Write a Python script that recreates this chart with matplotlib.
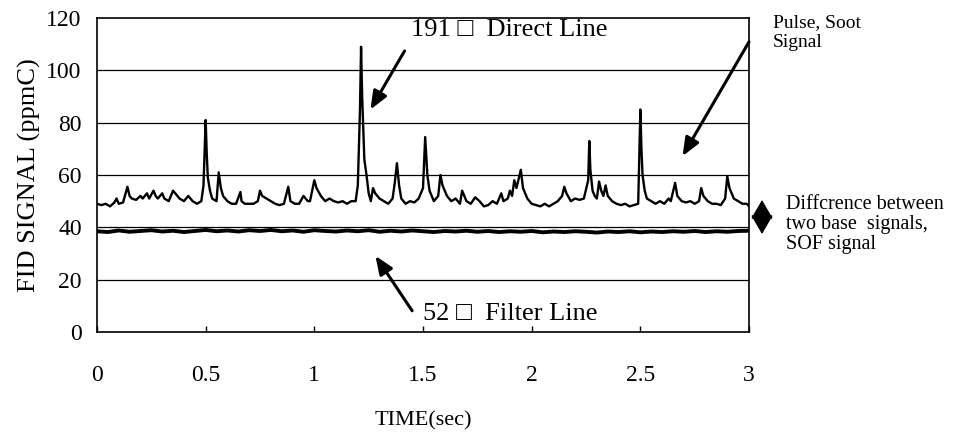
import matplotlib
matplotlib.use('Agg')
import matplotlib.pyplot as plt

plt.rcParams['font.family'] = ['Liberation Serif', 'DejaVu Serif']

# direct line (191 C)
direct_t = [0.00, 0.02, 0.04, 0.06, 0.08, 0.09, 0.10, 0.12, 0.14, 0.15, 0.16, 0.18,
            0.20, 0.21, 0.23, 0.24, 0.26, 0.27, 0.28, 0.30, 0.31, 0.33, 0.35, 0.37,
            0.38, 0.40, 0.42, 0.44, 0.46, 0.48, 0.49, 0.50, 0.505, 0.51, 0.52, 0.53,
            0.55, 0.56, 0.57, 0.58, 0.60, 0.62, 0.64, 0.66, 0.665, 0.68, 0.70, 0.72,
            0.74, 0.75, 0.76, 0.78, 0.80, 0.82, 0.84, 0.86, 0.88, 0.89, 0.91, 0.93,
            0.95, 0.97, 0.98, 1.00, 1.01, 1.03, 1.05, 1.07, 1.09, 1.11, 1.13, 1.15,
            1.17, 1.19, 1.20, 1.21, 1.215, 1.22, 1.23, 1.24, 1.25, 1.26, 1.27, 1.28,
            1.30, 1.32, 1.34, 1.36, 1.37, 1.38, 1.39, 1.40, 1.42, 1.44, 1.46, 1.48,
            1.50, 1.51, 1.52, 1.53, 1.55, 1.57, 1.58, 1.59, 1.61, 1.63, 1.65, 1.67,
            1.68, 1.70, 1.72, 1.74, 1.76, 1.78, 1.80, 1.82, 1.84, 1.86, 1.87, 1.89,
            1.90, 1.91, 1.92, 1.93, 1.95, 1.96, 1.98, 2.00, 2.02, 2.04, 2.06, 2.08,
            2.10, 2.12, 2.14, 2.15, 2.16, 2.18, 2.20, 2.22, 2.24, 2.26, 2.265, 2.27,
            2.28, 2.29, 2.30, 2.31, 2.32, 2.33, 2.34, 2.35, 2.37, 2.39, 2.41, 2.43,
            2.45, 2.47, 2.49, 2.50, 2.505, 2.51, 2.52, 2.53, 2.55, 2.57, 2.59, 2.61,
            2.63, 2.64, 2.66, 2.67, 2.69, 2.71, 2.73, 2.75, 2.77, 2.78, 2.79, 2.81,
            2.83, 2.85, 2.87, 2.89, 2.90, 2.91, 2.93, 2.95, 2.97, 2.99, 3.00]
direct_v = [49, 48.5, 49, 48, 49.5, 51, 49, 49.5, 55.5, 52, 51, 50.5,
            52, 51, 53, 51, 54, 52, 51, 53, 51, 50, 54, 52,
            51, 50, 52, 50, 49, 50, 56, 81, 68, 59, 54, 51,
            50, 61, 55, 52, 50, 49, 49, 53.5, 50, 49, 49, 49,
            50, 54, 52, 51, 50, 49, 48.5, 49, 55.5, 50, 49, 49,
            52, 50, 50, 58, 55, 52, 50, 51, 50, 49.5, 50, 49,
            50, 50, 56, 85, 109, 90, 66, 60, 53, 50, 55, 53,
            51, 50, 49, 51, 57, 64.5, 56, 51, 49, 50, 49.5, 51,
            55, 74.5, 60, 54, 50, 52, 60, 56, 52, 50, 51, 49,
            54, 50, 49, 51.5, 50, 48, 48.5, 50, 49, 53, 50, 51,
            54, 52, 58, 55, 62, 55, 51, 49, 48.5, 48, 49, 48,
            49, 50, 52, 55.5, 53, 50, 51, 50.5, 51, 58, 73, 62,
            54, 52, 51, 57.5, 54, 52, 56, 52, 50, 49, 48.5, 49,
            48, 48.5, 49, 85, 70, 60, 54, 51, 50, 49, 50, 49,
            51, 50, 57, 52, 50, 49.5, 50, 49, 50, 55, 52, 50,
            49, 49, 48.5, 51, 59.5, 55, 51, 50, 49, 49, 48]

# filter line (52 C)
filter_t = [0.00, 0.05, 0.10, 0.15, 0.20, 0.25, 0.30, 0.35, 0.40, 0.45, 0.50, 0.55,
            0.60, 0.65, 0.70, 0.75, 0.80, 0.85, 0.90, 0.95, 1.00, 1.05, 1.10, 1.15,
            1.20, 1.25, 1.30, 1.35, 1.40, 1.45, 1.50, 1.55, 1.60, 1.65, 1.70, 1.75,
            1.80, 1.85, 1.90, 1.95, 2.00, 2.05, 2.10, 2.15, 2.20, 2.25, 2.30, 2.35,
            2.40, 2.45, 2.50, 2.55, 2.60, 2.65, 2.70, 2.75, 2.80, 2.85, 2.90, 2.95, 3.00]
filter_v = [38.5, 38.2, 38.8, 38.3, 38.6, 38.9, 38.4, 38.7, 38.2, 38.6, 39.0, 38.5,
            38.8, 38.4, 38.9, 38.6, 39.0, 38.5, 38.8, 38.3, 38.9, 38.6, 38.4, 38.8,
            38.5, 38.9, 38.3, 38.7, 38.4, 38.8, 38.5, 38.2, 38.6, 38.4, 38.7, 38.3,
            38.6, 38.2, 38.5, 38.3, 38.6, 38.1, 38.4, 38.2, 38.5, 38.3, 38.0, 38.4,
            38.2, 38.5, 38.1, 38.4, 38.2, 38.5, 38.3, 38.6, 38.2, 38.5, 38.3, 38.6, 38.7]

x_ticks = [0, 0.5, 1, 1.5, 2, 2.5, 3]
x_labels = ['0', '0.5', '1', '1.5', '2', '2.5', '3']
y_ticks = [0, 20, 40, 60, 80, 100, 120]

fig = plt.figure(figsize=(9.66, 4.37), dpi=100)
ax = fig.add_axes([0.1004, 0.2403, 0.675, 0.7185])

for y in y_ticks[1:-1]:
    ax.axhline(y, color='black', lw=0.9, zorder=1)

ax.plot(direct_t, direct_v, color='black', lw=1.7, zorder=3)
ax.plot(filter_t, filter_v, color='black', lw=2.8, zorder=3)

ax.set_xlim(0, 3)
ax.set_ylim(0, 120)
ax.set_xticks(x_ticks)
ax.set_xticklabels(x_labels)
ax.set_yticks(y_ticks)
ax.tick_params(axis='x', direction='in', length=4, width=1, pad=24, labelsize=17)
ax.tick_params(axis='y', length=0, pad=11, labelsize=17)
for s in ax.spines.values():
    s.set_linewidth(1.2)

ax.set_xlabel('TIME(sec)', fontsize=16, labelpad=18)
ax.set_ylabel('FID SIGNAL (ppmC)', fontsize=19, labelpad=4)

arrow = dict(arrowstyle='-|>,head_length=1.1,head_width=0.45', color='black', lw=2.2,
             shrinkA=0, shrinkB=0)

ax.annotate('', xy=(1.258, 85), xytext=(1.415, 107.4), arrowprops=arrow)
ax.text(1.445, 115.4, '191 \u25a1  Direct Line', fontsize=19, ha='left', va='center')

ax.annotate('', xy=(2.694, 67.2), xytext=(3.0, 110.9), arrowprops=arrow,
            annotation_clip=False)

ax.annotate('', xy=(1.281, 29.1), xytext=(1.45, 8.1), arrowprops=arrow)
ax.text(1.5, 6.9, '52 \u25a1  Filter Line', fontsize=19, ha='left', va='center')

fig.text(0.800, 0.968, 'Pulse, Soot\nSignal', fontsize=14, ha='left', va='top',
         linespacing=1.25)

ax.annotate('', xy=(762, 237), xytext=(762, 203), xycoords='figure pixels',
            textcoords='figure pixels',
            arrowprops=dict(arrowstyle='<|-|>,head_length=1.2,head_width=0.7',
                            color='black', lw=1, shrinkA=0, shrinkB=0))
fig.text(0.814, 0.553, 'Diffcrence between\ntwo base  signals,\nSOF signal',
         fontsize=14.5, ha='left', va='top', linespacing=1.05)

fig.savefig('out.png', dpi=100)
